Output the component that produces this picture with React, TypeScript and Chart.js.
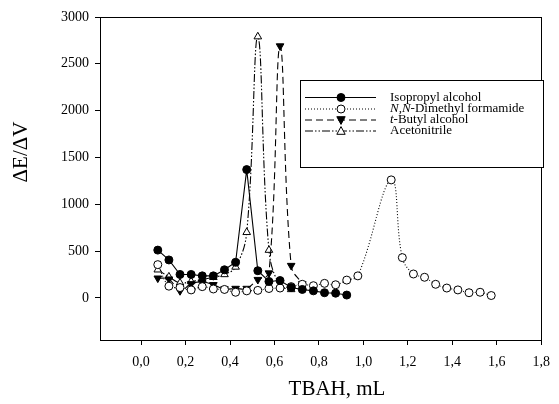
import React, { useEffect, useRef } from 'react';
import { Chart, registerables } from 'chart.js';

Chart.register(...registerables);

// Titrant volume (mL) and first-derivative values for each solvent
const ipaVolume = [0.075, 0.125, 0.175, 0.225, 0.275, 0.325, 0.375, 0.425, 0.475, 0.525, 0.575, 0.625, 0.675, 0.725, 0.775, 0.825, 0.875, 0.925];
const ipaDeriv = [510, 405, 250, 250, 235, 235, 300, 380, 1370, 290, 175, 185, 110, 90, 75, 55, 50, 30];

const dmfVolume = [0.075, 0.125, 0.175, 0.225, 0.275, 0.325, 0.375, 0.425, 0.475, 0.525, 0.575, 0.625, 0.675, 0.725, 0.775, 0.825, 0.875, 0.925, 0.975, 1.125, 1.175, 1.225, 1.275, 1.325, 1.375, 1.425, 1.475, 1.525, 1.575];
const dmfDeriv = [355, 125, 110, 85, 120, 95, 90, 60, 75, 80, 100, 105, 120, 145, 130, 155, 140, 190, 235, 1260, 430, 255, 220, 145, 105, 85, 55, 60, 25];

const tbaVolume = [0.075, 0.125, 0.175, 0.225, 0.275, 0.325, 0.375, 0.425, 0.475, 0.525, 0.575, 0.625, 0.675, 0.725];
const tbaDeriv = [210, 200, 75, 150, 170, 140, 95, 100, 100, 195, 265, 2690, 345, 150];

const acnVolume = [0.075, 0.125, 0.175, 0.225, 0.275, 0.325, 0.375, 0.425, 0.475, 0.525, 0.575, 0.625, 0.675];
const acnDeriv = [300, 225, 160, 175, 195, 220, 250, 330, 700, 2790, 510, 130, 90];

const xTickValues = [0, 0.2, 0.4, 0.6, 0.8, 1.0, 1.2, 1.4, 1.6, 1.8];
const yTickValues = [0, 500, 1000, 1500, 2000, 2500, 3000];

// Legend labels: segments with an italic flag
const legendLabels: { t: string; i?: boolean }[][] = [
  [{ t: 'Isopropyl alcohol' }],
  [{ t: 'N,N', i: true }, { t: '-Dimethyl formamide' }],
  [{ t: 't', i: true }, { t: '-Butyl alcohol' }],
  [{ t: 'Acetonitrile' }],
];

const SERIF = '"Liberation Serif", "Times New Roman", serif';

const toPoints = (xs: number[], ys: number[]) => xs.map((x, i) => ({ x, y: ys[i] }));

function drawMarker(ctx: CanvasRenderingContext2D, ds: any, x: number, y: number) {
  const r = ds.pointRadius;
  ctx.save();
  ctx.setLineDash([]);
  ctx.lineWidth = 1;
  ctx.strokeStyle = '#000';
  ctx.fillStyle = ds.pointBackgroundColor;
  ctx.beginPath();
  if (ds.pointStyle === 'circle') {
    ctx.arc(x, y, r, 0, Math.PI * 2);
  } else {
    const down = ds.pointRotation === 180 ? -1 : 1;
    const h = r * 1.5;
    ctx.moveTo(x, y - down * r);
    ctx.lineTo(x - r * 0.95, y + down * h * 0.5);
    ctx.lineTo(x + r * 0.95, y + down * h * 0.5);
    ctx.closePath();
  }
  ctx.fill();
  ctx.stroke();
  ctx.restore();
}

const decorPlugin = {
  id: 'decor',
  afterDraw(chart: any) {
    const { ctx, chartArea: a } = chart;
    ctx.save();
    ctx.strokeStyle = '#000';
    ctx.lineWidth = 1;
    ctx.setLineDash([]);
    ctx.strokeRect(Math.round(a.left) + 0.5, Math.round(a.top) + 0.5, Math.round(a.right - a.left), Math.round(a.bottom - a.top));

    // axis titles
    ctx.fillStyle = '#000';
    ctx.font = `21px ${SERIF}`;
    ctx.textAlign = 'center';
    ctx.textBaseline = 'middle';
    ctx.fillText('TBAH, mL', 337, 389);
    ctx.save();
    ctx.translate(21, 152);
    ctx.rotate(-Math.PI / 2);
    ctx.fillText('\u0394E/\u0394V', 0, 0);
    ctx.restore();

    // legend box
    const bx = 300, by = 80, bw = 243, bh = 87;
    ctx.fillStyle = '#fff';
    ctx.fillRect(bx, by, bw, bh);
    ctx.strokeRect(bx + 0.5, by + 0.5, bw, bh);
    const rowY = [97.5, 109, 120, 131];
    chart.data.datasets.forEach((ds: any, i: number) => {
      const y = rowY[i];
      ctx.save();
      ctx.strokeStyle = '#000';
      ctx.lineWidth = 1;
      ctx.setLineDash(ds.borderDash || []);
      ctx.beginPath();
      ctx.moveTo(305, y);
      ctx.lineTo(376, y);
      ctx.stroke();
      ctx.restore();
      drawMarker(ctx, ds, 341, y);
      let tx = 390;
      ctx.textAlign = 'left';
      ctx.textBaseline = 'middle';
      ctx.fillStyle = '#000';
      legendLabels[i].forEach((seg) => {
        ctx.font = `${seg.i ? 'italic ' : ''}13px ${SERIF}`;
        ctx.fillText(seg.t, tx, y);
        tx += ctx.measureText(seg.t).width;
      });
    });
    ctx.restore();
  },
};

export default function App() {
  const canvasRef = useRef<HTMLCanvasElement | null>(null);

  useEffect(() => {
    const canvas = canvasRef.current;
    if (!canvas) return;
    const base = {
      borderColor: '#000',
      borderWidth: 1.1,
      pointBorderColor: '#000',
      pointBorderWidth: 1,
      pointRadius: 4,
      pointHoverRadius: 4,
      fill: false,
    };
    const chart = new Chart(canvas, {
      type: 'line',
      data: {
        datasets: [
          {
            ...base,
            label: 'Isopropyl alcohol',
            data: toPoints(ipaVolume, ipaDeriv),
            pointStyle: 'circle',
            pointBackgroundColor: '#000',
            borderDash: [],
            tension: 0,
          },
          {
            ...base,
            label: 'N,N-Dimethyl formamide',
            data: toPoints(dmfVolume, dmfDeriv),
            pointStyle: 'circle',
            pointBackgroundColor: '#fff',
            borderDash: [1, 2],
            tension: 0.4,
          },
          {
            ...base,
            label: 't-Butyl alcohol',
            data: toPoints(tbaVolume, tbaDeriv),
            pointStyle: 'triangle',
            pointRotation: 180,
            pointRadius: 4.4,
            pointBackgroundColor: '#000',
            borderDash: [7, 4],
            tension: 0.4,
          },
          {
            ...base,
            label: 'Acetonitrile',
            data: toPoints(acnVolume, acnDeriv),
            pointStyle: 'triangle',
            pointRadius: 4.4,
            pointBackgroundColor: '#fff',
            borderDash: [8, 2, 1.5, 2, 1.5, 2],
            tension: 0.4,
          },
        ],
      },
      options: {
        animation: false,
        responsive: false,
        layout: { padding: { left: 0, top: 17, right: 11, bottom: 0 } },
        plugins: { legend: { display: false }, tooltip: { enabled: false } },
        scales: {
          x: {
            type: 'linear',
            min: -0.185,
            max: 1.8,
            afterBuildTicks: (scale: any) => {
              scale.ticks = xTickValues.map((v) => ({ value: v }));
            },
            afterFit: (scale: any) => {
              scale.height = 64;
            },
            grid: { display: true, drawOnChartArea: false, drawTicks: true, tickLength: 5, color: '#000' },
            border: { display: false },
            ticks: {
              color: '#000',
              font: { family: SERIF, size: 14 },
              padding: 9,
              maxRotation: 0,
              autoSkip: false,
              callback: (v: any) => Number(v).toFixed(1).replace('.', ','),
            },
          },
          y: {
            type: 'linear',
            min: -450,
            max: 3000,
            afterBuildTicks: (scale: any) => {
              scale.ticks = yTickValues.map((v) => ({ value: v }));
            },
            afterFit: (scale: any) => {
              scale.width = 100;
            },
            grid: { display: true, drawOnChartArea: false, drawTicks: true, tickLength: 5, color: '#000' },
            border: { display: false },
            ticks: {
              color: '#000',
              font: { family: SERIF, size: 14 },
              padding: 6,
              autoSkip: false,
              callback: (v: any) => String(v),
            },
          },
        },
      },
      plugins: [decorPlugin],
    } as any);
    return () => chart.destroy();
  }, []);

  return (
    <div style={{ position: 'fixed', left: 0, top: 0, width: 559, height: 404, background: '#fff' }}>
      <canvas ref={canvasRef} width={559} height={404} style={{ display: 'block' }} />
    </div>
  );
}
